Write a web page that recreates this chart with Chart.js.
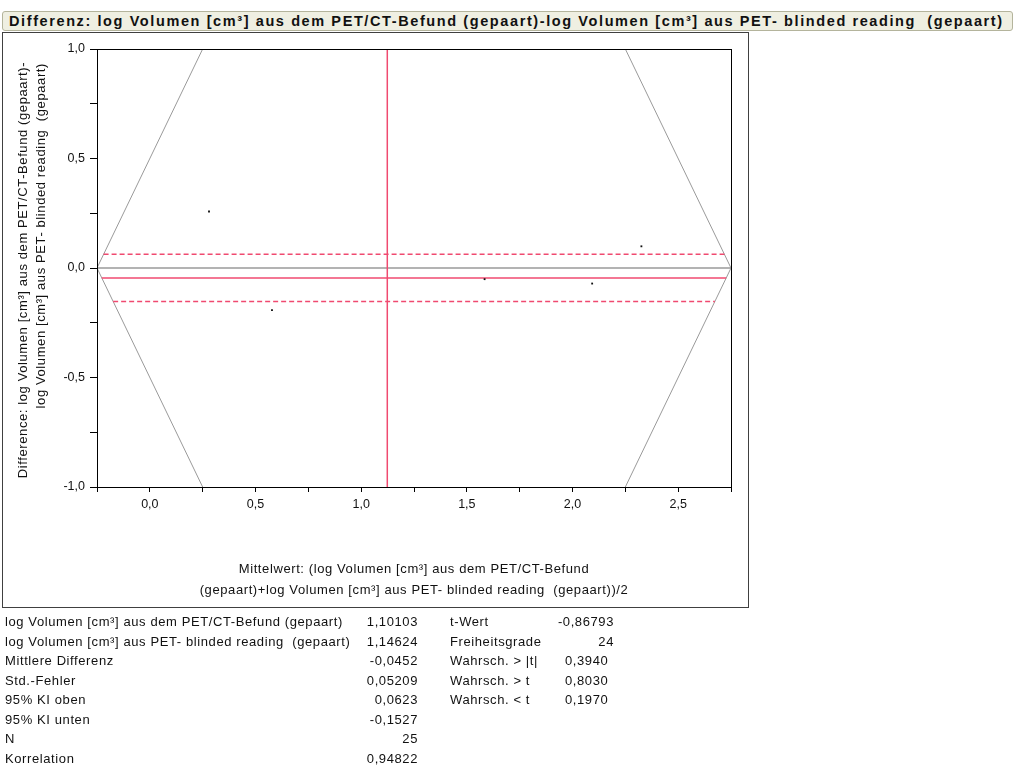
<!DOCTYPE html>
<html>
<head>
<meta charset="utf-8">
<script src="https://cdn.jsdelivr.net/npm/chart.js@4.4.0/dist/chart.umd.min.js"></script>
<style>
    body { margin: 0; background: #fff; font-family: 'Liberation Sans', Arial, sans-serif; }
    #title-bar {
        position: absolute; left: 2px; top: 11px; width: 1011px; height: 20px;
        box-sizing: border-box; background: #efefe2; border: 1px solid #b4b49c;
        border-radius: 3px; font-weight: bold; font-size: 14.5px; line-height: 18px;
        padding-left: 6px; color: #111; white-space: pre; letter-spacing: 1.6px;
    }
    #frame {
        position: absolute; left: 2px; top: 32px; width: 747px; height: 576px;
        box-sizing: border-box; border: 1px solid #404040;
    }
    #chart { position: absolute; left: 0; top: 0; }
    .cell { position: absolute; font-size: 13px; color: #111; white-space: pre; line-height: 14px; letter-spacing: 0.6px; }
</style>
</head>
<body>
<div id="title-bar">Differenz: log Volumen [cm³] aus dem PET/CT-Befund (gepaart)-log Volumen [cm³] aus PET- blinded reading  (gepaart)</div>
<div id="frame"></div>
<canvas id="chart" width="1017" height="778"></canvas>
<div id="stats"></div>
<script>
// Axis ranges
const xRange = [-0.25, 2.75];
const yRange = [-1, 1];

// Paired observations (mean of both, difference)
const meanValues = [0.280, 0.578, 1.584, 2.093, 2.326];
const diffValues = [0.258, -0.192, -0.051, -0.071, 0.099];

// Summary values
const meanPetCt = 1.10103;
const meanPet = 1.14624;
const meanDiff = -0.0452;
const ciUpper = 0.0623;
const ciLower = -0.1527;

// Reference frame lines (rotated original axes)
const vLeftX = [0.25, -0.25, 0.25];
const vRightX = [2.25, 2.75, 2.25];
const vY = [1, 0, -1];

// Statistics table
const statLabels = ['log Volumen [cm³] aus dem PET/CT-Befund (gepaart)', 'log Volumen [cm³] aus PET- blinded reading  (gepaart)',
    'Mittlere Differenz', 'Std.-Fehler', '95% KI oben', '95% KI unten', 'N', 'Korrelation'];
const statValues = ['1,10103', '1,14624', '-0,0452', '0,05209', '0,0623', '-0,1527', '25', '0,94822'];
const testLabels = ['t-Wert', 'Freiheitsgrade', 'Wahrsch. > |t|', 'Wahrsch. > t', 'Wahrsch. < t'];
const testValues = ['-0,86793', '24', '0,3940', '0,8030', '0,1970'];

const red = '#f04a70';
const grey = '#9a9a9a';

function toPoints(xs, ys) {
    return xs.map((x, i) => ({ x: x, y: ys[i] }));
}

// horizontal line clipped to the V frame
function hLine(d) {
    return [{ x: xRange[0] + Math.abs(d) / 2, y: d }, { x: xRange[1] - Math.abs(d) / 2, y: d }];
}

function fmt(v) {
    return v.toFixed(1).replace('.', ',');
}

const frameAndTitles = {
    id: 'frameAndTitles',
    afterDraw(chart) {
        const ctx = chart.ctx;
        const a = chart.chartArea;
        ctx.save();
        ctx.strokeStyle = '#000';
        ctx.lineWidth = 1;
        ctx.strokeRect(Math.round(a.left) + 0.5, Math.round(a.top) + 0.5,
            Math.round(a.right - a.left), Math.round(a.bottom - a.top));

        ctx.fillStyle = '#111';
        ctx.font = '13px "Liberation Sans", Arial, sans-serif';
        ctx.letterSpacing = '0.6px';
        ctx.textBaseline = 'middle';

        // y title
        ctx.save();
        ctx.translate(23, 270);
        ctx.rotate(-Math.PI / 2);
        ctx.textAlign = 'center';
        ctx.fillText('Difference: log Volumen [cm³] aus dem PET/CT-Befund (gepaart)-', 0, 0);
        ctx.restore();
        ctx.save();
        ctx.translate(41, 63);
        ctx.rotate(-Math.PI / 2);
        ctx.textAlign = 'right';
        ctx.fillText('log Volumen [cm³] aus PET- blinded reading  (gepaart)', 0, 0);
        ctx.restore();

        // x title
        const cx = (a.left + a.right) / 2;
        ctx.textAlign = 'center';
        ctx.fillText('Mittelwert: (log Volumen [cm³] aus dem PET/CT-Befund', cx, 569);
        ctx.fillText('(gepaart)+log Volumen [cm³] aus PET- blinded reading  (gepaart))/2', cx, 590);
        ctx.restore();
    }
};

const tickFont = { family: "'Liberation Sans', Arial, sans-serif", size: 12.5 };

new Chart(document.getElementById('chart'), {
    type: 'scatter',
    data: {
        datasets: [
            {
                data: toPoints(meanValues, diffValues),
                pointStyle: 'rect',
                pointRadius: 1.3,
                backgroundColor: '#111',
                borderWidth: 0
            },
            {
                data: [{ x: (meanPetCt + meanPet) / 2, y: yRange[0] }, { x: (meanPetCt + meanPet) / 2, y: yRange[1] }],
                showLine: true, pointRadius: 0, borderColor: red, borderWidth: 1.5
            },
            {
                data: hLine(meanDiff),
                showLine: true, pointRadius: 0, borderColor: red, borderWidth: 1.5
            },
            {
                data: hLine(ciUpper),
                showLine: true, pointRadius: 0, borderColor: red, borderWidth: 1.5, borderDash: [5, 3]
            },
            {
                data: hLine(ciLower),
                showLine: true, pointRadius: 0, borderColor: red, borderWidth: 1.5, borderDash: [5, 3]
            },
            {
                data: [{ x: xRange[0], y: 0 }, { x: xRange[1], y: 0 }],
                showLine: true, pointRadius: 0, borderColor: grey, borderWidth: 1.5
            },
            {
                data: toPoints(vLeftX, vY),
                showLine: true, pointRadius: 0, borderColor: grey, borderWidth: 1
            },
            {
                data: toPoints(vRightX, vY),
                showLine: true, pointRadius: 0, borderColor: grey, borderWidth: 1
            }
        ]
    },
    options: {
        responsive: false,
        animation: false,
        devicePixelRatio: 1,
        layout: { padding: { top: 49, right: 286, left: 0, bottom: 0 } },
        plugins: {
            legend: { display: false },
            tooltip: { enabled: false }
        },
        scales: {
            x: {
                type: 'linear',
                min: xRange[0],
                max: xRange[1],
                afterFit: scale => { scale.height = 291; },
                ticks: {
                    stepSize: 0.25,
                    autoSkip: false,
                    maxRotation: 0,
                    padding: 5,
                    color: '#111',
                    font: tickFont,
                    callback: v => (Math.abs(v * 2 - Math.round(v * 2)) < 1e-6 ? fmt(v) : '')
                },
                grid: { drawOnChartArea: false, tickLength: 5, color: '#000' },
                border: { color: '#000' }
            },
            y: {
                type: 'linear',
                min: yRange[0],
                max: yRange[1],
                afterFit: scale => { scale.width = 97; },
                ticks: {
                    stepSize: 0.25,
                    autoSkip: false,
                    padding: 5,
                    color: '#111',
                    font: tickFont,
                    callback: v => (Math.abs(v * 2 - Math.round(v * 2)) < 1e-6 ? fmt(v) : '')
                },
                grid: { drawOnChartArea: false, tickLength: 7, color: '#000' },
                border: { color: '#000' }
            }
        }
    },
    plugins: [frameAndTitles]
});

// Statistics table under the chart
const stats = document.getElementById('stats');
function addCell(text, x, y, align) {
    const el = document.createElement('div');
    el.className = 'cell';
    el.textContent = text;
    el.style.top = (y - 7) + 'px';
    if (align === 'right') {
        el.style.right = (1017 - x) + 'px';
    } else {
        el.style.left = x + 'px';
    }
    stats.appendChild(el);
}
statLabels.forEach((t, i) => addCell(t, 5, 622 + i * 19.5));
statValues.forEach((t, i) => addCell(t, 418, 622 + i * 19.5, 'right'));
testLabels.forEach((t, i) => addCell(t, 450, 622 + i * 19.5));
testValues.forEach((t, i) => {
    if (i < 2) addCell(t, 614, 622 + i * 19.5, 'right');
    else addCell(t, 565, 622 + i * 19.5);
});
</script>
</body>
</html>
